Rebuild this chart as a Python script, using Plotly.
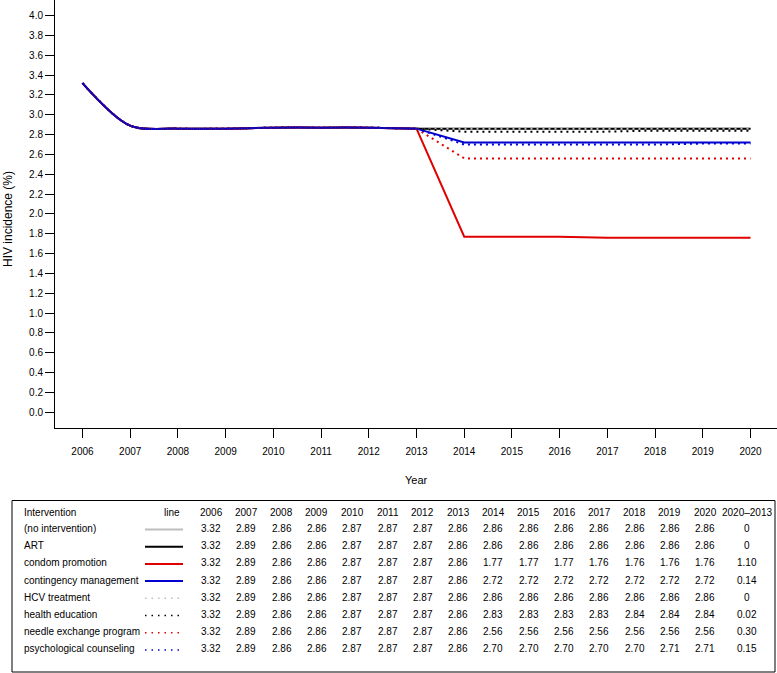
import plotly.graph_objects as go

# ---------------- data ----------------
years = [2006, 2007, 2008, 2009, 2010, 2011, 2012, 2013, 2014, 2015, 2016, 2017, 2018, 2019, 2020]
interventions = ["(no intervention)", "ART", "condom promotion", "contingency management",
                 "HCV treatment", "health education", "needle exchange program",
                 "psychological counseling"]
no_intervention = [3.32, 2.89, 2.86, 2.86, 2.87, 2.87, 2.87, 2.86, 2.86, 2.86, 2.86, 2.86, 2.86, 2.86, 2.86]
art = [3.32, 2.89, 2.86, 2.86, 2.87, 2.87, 2.87, 2.86, 2.86, 2.86, 2.86, 2.86, 2.86, 2.86, 2.86]
condom_promotion = [3.32, 2.89, 2.86, 2.86, 2.87, 2.87, 2.87, 2.86, 1.77, 1.77, 1.77, 1.76, 1.76, 1.76, 1.76]
contingency_management = [3.32, 2.89, 2.86, 2.86, 2.87, 2.87, 2.87, 2.86, 2.72, 2.72, 2.72, 2.72, 2.72, 2.72, 2.72]
hcv_treatment = [3.32, 2.89, 2.86, 2.86, 2.87, 2.87, 2.87, 2.86, 2.86, 2.86, 2.86, 2.86, 2.86, 2.86, 2.86]
health_education = [3.32, 2.89, 2.86, 2.86, 2.87, 2.87, 2.87, 2.86, 2.83, 2.83, 2.83, 2.83, 2.84, 2.84, 2.84]
needle_exchange = [3.32, 2.89, 2.86, 2.86, 2.87, 2.87, 2.87, 2.86, 2.56, 2.56, 2.56, 2.56, 2.56, 2.56, 2.56]
psych_counseling = [3.32, 2.89, 2.86, 2.86, 2.87, 2.87, 2.87, 2.86, 2.70, 2.70, 2.70, 2.70, 2.70, 2.71, 2.71]
reduction_2020_2013 = ["0", "0", "1.10", "0.14", "0", "0.02", "0.30", "0.15"]
y_ticks = [0.0, 0.2, 0.4, 0.6, 0.8, 1.0, 1.2, 1.4, 1.6, 1.8, 2.0, 2.2, 2.4, 2.6, 2.8, 3.0,
           3.2, 3.4, 3.6, 3.8, 4.0]

series = [no_intervention, art, condom_promotion, contingency_management,
          hcv_treatment, health_education, needle_exchange, psych_counseling]

# ---------------- styles ----------------
GRAY, BLACK, RED, BLUE = "#bebebe", "#000000", "#e00000", "#0000d0"
colors = [GRAY, BLACK, RED, BLUE, GRAY, BLACK, RED, BLUE]
dashes = ["solid", "solid", "solid", "solid", "2px,4px", "2px,4px", "2px,4px", "2px,4px"]
FONT = "Liberation Sans, Arial, Helvetica, sans-serif"

W, H = 777, 673
def px(x):
    return x / W
def py(y):
    return 1 - y / H

fig = go.Figure()
split = years.index(2013)
for name, vals, c, d in zip(interventions, series, colors, dashes):
    # smooth early segment, straight segments after the intervention starts
    fig.add_trace(go.Scatter(x=years[:split + 1], y=vals[:split + 1], mode="lines",
                             line=dict(color=c, width=2, dash=d, shape="spline", smoothing=0.9),
                             name=name, showlegend=False, hoverinfo="skip"))
    fig.add_trace(go.Scatter(x=years[split:], y=vals[split:], mode="lines",
                             line=dict(color=c, width=2, dash=d),
                             name=name, showlegend=False))

annotations = []
shapes = []

def note(text, x, y, xanchor="center", font=None, **kw):
    annotations.append(dict(text=text, x=px(x), y=py(y), xref="paper", yref="paper",
                            showarrow=False, xanchor=xanchor, yanchor="middle",
                            font=font, **kw))

# axis titles
note("Year", 416, 480, font=dict(size=11, color="black", family=FONT))
note("HIV incidence (%)", 8, 219, textangle=-90, font=dict(size=12, color="black", family=FONT))

# table box
shapes.append(dict(type="rect", xref="paper", yref="paper", x0=px(12), x1=px(775),
                   y0=py(672), y1=py(500.5), line=dict(color="black", width=1)))

tfont = dict(size=10, color="black", family=FONT)
header_y = 512
row_y0 = 528.5
row_dy = 17.2
col_x0 = 211
col_dx = 35.3

note("Intervention", 22, header_y, xanchor="left", font=tfont)
note("line", 172, header_y, font=tfont)
for j, yr in enumerate(years):
    note(str(yr), col_x0 + j * col_dx, header_y, font=tfont)
note("2020\u20132013", 747, header_y, font=tfont)

for i, (name, vals, c, d) in enumerate(zip(interventions, series, colors, dashes)):
    ry = row_y0 + i * row_dy
    note(name, 22, ry, xanchor="left", font=tfont)
    if d == "solid":
        ln = dict(color=c, width=2)
    else:
        ln = dict(color=c, width=1.5, dash="1.5px,5px")
    shapes.append(dict(type="line", xref="paper", yref="paper", x0=px(145), x1=px(183),
                       y0=py(ry + 1), y1=py(ry + 1), line=ln))
    for j, v in enumerate(vals):
        note(f"{v:.2f}", col_x0 + j * col_dx, ry, font=tfont)
    note(reduction_2020_2013[i], 747, ry, font=tfont)

fig.update_layout(
    width=W, height=H,
    margin=dict(l=0, r=0, t=0, b=0),
    paper_bgcolor="white", plot_bgcolor="white",
    font=dict(family=FONT, size=10, color="black"),
    showlegend=False,
    xaxis=dict(domain=[px(55), 1], range=[2005.424, 2020.555], tickvals=years,
               ticks="outside", ticklen=9, tickwidth=1, tickcolor="black",
               showline=True, linecolor="black", linewidth=1, showgrid=False, zeroline=False,
               automargin=False, tickfont=dict(size=10, family=FONT), ticklabelstandoff=5),
    yaxis=dict(domain=[1 - 428 / H, 1], range=[-0.16, 4.158], tickvals=y_ticks,
               ticktext=[f"{t:.1f}" for t in y_ticks],
               ticks="outside", ticklen=9, tickwidth=1, tickcolor="black",
               showline=True, linecolor="black", linewidth=1, showgrid=False, zeroline=False,
               automargin=False, tickfont=dict(size=10, family=FONT)),
    annotations=annotations,
    shapes=shapes,
)

fig.write_html("out.html", config={"displayModeBar": False},
               post_script="document.body.style.margin='0';document.body.style.overflow='hidden';")
